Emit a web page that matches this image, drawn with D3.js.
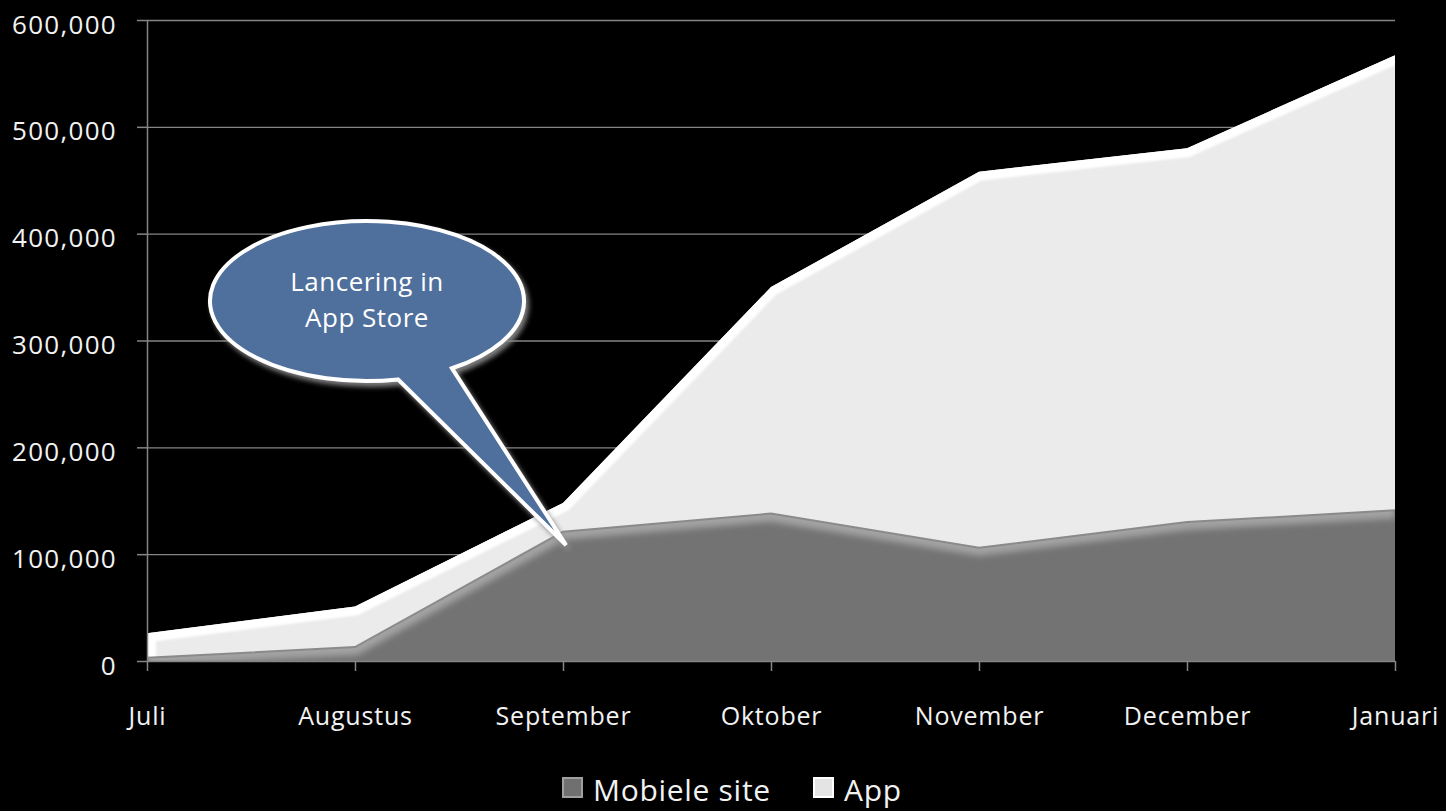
<!DOCTYPE html>
<html>
<head>
<meta charset="utf-8">
<script src="https://cdn.jsdelivr.net/npm/d3@7"></script>
<style>
  html, body { margin: 0; background: #000; }
  svg { display: block; font-family: "Open Sans", sans-serif; }
</style>
</head>
<body>
<svg id="chart" width="1446" height="811"></svg>
<script>
var months = ["Juli", "Augustus", "September", "Oktober", "November", "December", "Januari"];
var mobieleSite = [3000, 13000, 121000, 138000, 106000, 130000, 141000];
var app = [23000, 38000, 27000, 212000, 352000, 350000, 426000];
var yTicks = [0, 100000, 200000, 300000, 400000, 500000, 600000];
var legendLabels = ["Mobiele site", "App"];
var calloutLines = ["Lancering in", "App Store"];

var plotLeft = 147, plotRight = 1395, plotTop = 20, plotBottom = 661;

var svg = d3.select("#chart");

var x = d3.scalePoint().domain(months).range([plotLeft, plotRight]);
var y = d3.scaleLinear().domain([0, 600000]).range([plotBottom, plotTop]);

var rows = months.map(function (m, i) {
  return { month: m, mobiel: mobieleSite[i], app: app[i] };
});
var stacked = d3.stack().keys(["mobiel", "app"])(rows);

var defs = svg.append("defs");
defs.append("filter").attr("id", "soft")
    .attr("x", "-5%").attr("y", "-5%").attr("width", "110%").attr("height", "110%")
  .append("feGaussianBlur").attr("stdDeviation", 1.2);
defs.append("filter").attr("id", "softer")
    .attr("x", "-5%").attr("y", "-5%").attr("width", "110%").attr("height", "110%")
  .append("feGaussianBlur").attr("stdDeviation", 3);
defs.append("filter").attr("id", "shadow")
    .attr("x", "-20%").attr("y", "-20%").attr("width", "140%").attr("height", "140%")
  .append("feDropShadow").attr("dx", 3).attr("dy", 4).attr("stdDeviation", 2.5)
    .attr("flood-color", "#8a8a8a").attr("flood-opacity", 0.9);

/* gridlines */
svg.append("g")
    .attr("class", "grid")
    .attr("transform", "translate(" + plotLeft + ",0)")
    .call(d3.axisLeft(y).tickValues(yTicks.slice(1)).tickSize(-(plotRight - plotLeft)).tickFormat(""))
    .call(function (g) { g.select(".domain").remove(); })
    .selectAll("line").attr("stroke", "#858585").attr("stroke-width", 1.3);

var area = d3.area()
    .x(function (d) { return x(d.data.month); })
    .y0(function (d) { return y(d[0]); })
    .y1(function (d) { return y(d[1]); });

var topLine = d3.line()
    .x(function (d) { return x(d.data.month); })
    .y(function (d) { return y(d[1]); });

var mob = stacked[0], ap = stacked[1];
var last = months.length - 1;

stacked.forEach(function (s, i) {
  defs.append("clipPath").attr("id", "clip" + i)
    .append("path").attr("d", area(s));
});

/* Mobiele site */
svg.append("path").attr("d", area(mob)).attr("fill", "#737373");
var gm = svg.append("g").attr("clip-path", "url(#clip0)");
gm.append("path").attr("d", topLine(mob))
    .attr("fill", "none").attr("stroke", "#a3a3a3").attr("stroke-width", 16)
    .attr("filter", "url(#softer)");
gm.append("line")
    .attr("x1", x(months[last])).attr("x2", x(months[last]))
    .attr("y1", y(mob[last][1])).attr("y2", plotBottom)
    .attr("stroke", "#5e5e5e").attr("stroke-width", 6).attr("filter", "url(#soft)");
gm.append("line")
    .attr("x1", plotLeft).attr("x2", plotRight).attr("y1", plotBottom).attr("y2", plotBottom)
    .attr("stroke", "#686868").attr("stroke-width", 12).attr("filter", "url(#soft)");

/* App */
svg.append("path").attr("d", area(ap)).attr("fill", "#ebebeb");
var ga = svg.append("g").attr("clip-path", "url(#clip1)");
var appEdge = [[x(months[0]), y(ap[0][0])]].concat(ap.map(function (d) {
  return [x(d.data.month), y(d[1])];
}));
ga.append("path").attr("d", d3.line()(appEdge))
    .attr("fill", "none").attr("stroke", "#ffffff").attr("stroke-width", 18)
    .attr("filter", "url(#soft)");
ga.append("line")
    .attr("x1", x(months[last])).attr("x2", x(months[last]))
    .attr("y1", y(ap[last][1])).attr("y2", y(ap[last][0]))
    .attr("stroke", "#bdbdbd").attr("stroke-width", 7).attr("filter", "url(#soft)");

svg.append("path").attr("d", topLine(mob))
    .attr("fill", "none").attr("stroke", "#8a8a8a").attr("stroke-width", 2);

/* axes */
var yAxis = svg.append("g")
    .attr("transform", "translate(" + plotLeft + ",0)")
    .call(d3.axisLeft(y).tickValues(yTicks).tickSize(10).tickSizeOuter(0)
      .tickPadding(20).tickFormat(d3.format(",")));
var xAxis = svg.append("g")
    .attr("transform", "translate(0," + plotBottom + ")")
    .call(d3.axisBottom(x).tickSize(10).tickSizeOuter(0));

[yAxis, xAxis].forEach(function (g) {
  g.select(".domain").attr("stroke", "#858585").attr("stroke-width", 1.5);
  g.selectAll(".tick line").attr("stroke", "#858585").attr("stroke-width", 1.5);
  g.selectAll("text").attr("fill", "#f2f2f2").attr("font-size", 25)
    .attr("font-family", "Open Sans").style("letter-spacing", "0.8px");
});
yAxis.selectAll("text").attr("font-size", 26).style("letter-spacing", "1.3px").attr("dy", "0.5em");
xAxis.selectAll("text").attr("y", 64).attr("dy", 0);

/* callout */
var cx = 367, cy = 301, rx = 157, ry = 80;
var a1 = 1.372, a2 = 0.999;
var p1 = [cx + rx * Math.cos(a1), cy + ry * Math.sin(a1)];
var p2 = [cx + rx * Math.cos(a2), cy + ry * Math.sin(a2)];
var tip = [566, 545];
var bubble = svg.append("g").attr("filter", "url(#shadow)");
bubble.append("path")
    .attr("d", "M" + p1 + " A" + rx + "," + ry + " 0 1,1 " + p2 + " L" + tip + " Z")
    .attr("fill", "#4f6f9c").attr("stroke", "#ffffff").attr("stroke-width", 4)
    .attr("stroke-linejoin", "miter");
svg.append("g").selectAll("text").data(calloutLines).enter().append("text")
    .attr("x", cx).attr("y", function (d, i) { return 291 + i * 36; })
    .attr("text-anchor", "middle").attr("fill", "#ffffff")
    .attr("font-size", 26).style("letter-spacing", "0.5px")
    .text(function (d) { return d; });

/* legend */
var legendX = [562, 813];
var swatchFill = ["#707070", "#e4e4e4"];
var swatchStroke = ["#a0a0a0", "#ffffff"];
var lg = svg.append("g").selectAll("g").data(legendLabels).enter().append("g")
    .attr("transform", function (d, i) { return "translate(" + legendX[i] + ",777)"; });
lg.append("rect").attr("x", 1).attr("y", 1).attr("width", 19).attr("height", 19)
    .attr("fill", function (d, i) { return swatchFill[i]; })
    .attr("stroke", function (d, i) { return swatchStroke[i]; })
    .attr("stroke-width", 2);
lg.append("text").attr("x", 31).attr("y", 24)
    .attr("fill", "#f2f2f2").attr("font-size", 30).style("letter-spacing", "0.7px")
    .text(function (d) { return d; });
</script>
</body>
</html>
